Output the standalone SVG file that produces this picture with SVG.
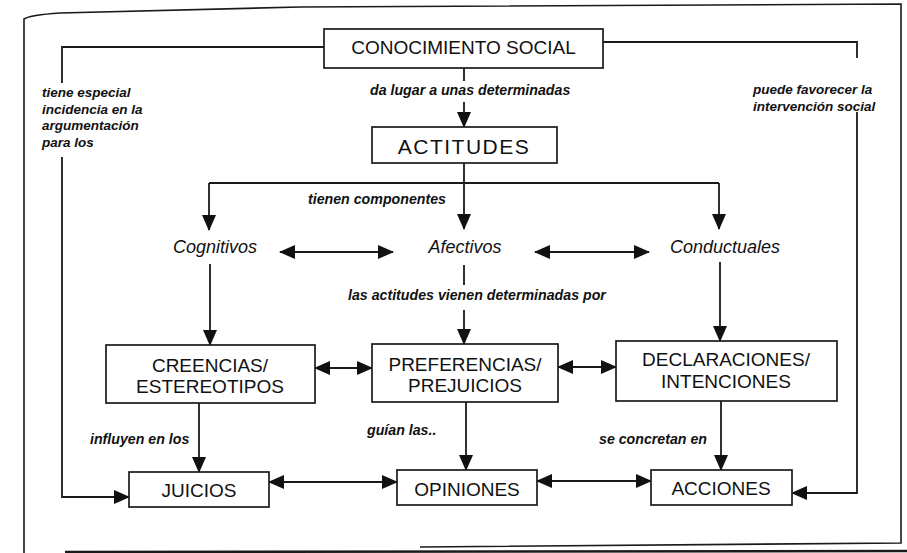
<svg xmlns="http://www.w3.org/2000/svg" width="907" height="553" viewBox="0 0 907 553">
  <defs>
    <marker id="arrow" viewBox="0 0 16 14" refX="15" refY="7" markerWidth="16" markerHeight="14" markerUnits="userSpaceOnUse" orient="auto-start-reverse">
      <path d="M0,0 L16,7 L0,14 Z" fill="#111"/>
    </marker>
    <style>
      .frame { fill: none; stroke: #1a1a1a; stroke-width: 1.6; }
      .box { fill: #fff; stroke: #1a1a1a; stroke-width: 1.7; }
      .link { fill: none; stroke: #1a1a1a; stroke-width: 1.8; }
      .to { marker-end: url(#arrow); }
      .both { marker-start: url(#arrow); marker-end: url(#arrow); }
      .title { font-family: "Liberation Sans", Arial, sans-serif; font-size: 19px; fill: #111; text-anchor: middle; }
      .comp { font-family: "Liberation Sans", Arial, sans-serif; font-size: 18px; font-style: italic; fill: #111; text-anchor: middle; }
      .lbl { font-family: "Liberation Sans", Arial, sans-serif; font-size: 14.2px; font-style: italic; font-weight: bold; fill: #111; }
      .side { font-size: 13.5px; }
    </style>
  </defs>

  <rect width="907" height="553" fill="#fff"/>

  <!-- page frame -->
  <path class="frame" d="M24,553 L24,19 Q30,15 60,13 L300,7 L901,4 L901,543 L420,547"/>
  <line x1="65" y1="552" x2="907" y2="551" stroke="#1a1a1a" stroke-width="2.5"/>

  <!-- connectors -->
  <g id="connectors">
    <!-- conocimiento social -> actitudes -->
    <line class="link" x1="464" y1="68" x2="464" y2="81"/>
    <line class="link to" x1="464" y1="102" x2="464" y2="127"/>
    <!-- actitudes -> components -->
    <polyline class="link" points="464,163 464,183"/>
    <polyline class="link" points="209,183 719,183"/>
    <line class="link to" x1="209" y1="183" x2="209" y2="230"/>
    <line class="link to" x1="464" y1="183" x2="464" y2="229"/>
    <line class="link to" x1="719" y1="183" x2="719" y2="229"/>
    <!-- between components -->
    <line class="link both" x1="280" y1="252" x2="393" y2="252"/>
    <line class="link both" x1="535" y1="252" x2="649" y2="252"/>
    <!-- components -> middle row -->
    <line class="link to" x1="210" y1="264" x2="210" y2="345"/>
    <line class="link" x1="464" y1="265" x2="464" y2="285"/>
    <line class="link to" x1="464" y1="310" x2="464" y2="344"/>
    <line class="link to" x1="720" y1="262" x2="720" y2="341"/>
    <!-- middle row links -->
    <line class="link both" x1="315" y1="368" x2="372" y2="368"/>
    <line class="link both" x1="558" y1="367" x2="616" y2="367"/>
    <!-- middle row -> bottom row -->
    <line class="link to" x1="199" y1="403" x2="199" y2="472"/>
    <line class="link to" x1="466" y1="402" x2="466" y2="470"/>
    <line class="link to" x1="721" y1="401" x2="721" y2="470"/>
    <!-- bottom row links -->
    <line class="link both" x1="269" y1="482" x2="397" y2="482"/>
    <line class="link both" x1="537" y1="481" x2="651" y2="481"/>
    <!-- outer loops -->
    <polyline class="link" points="324,47 62,47 62,83"/>
    <polyline class="link to" points="62,157 62,497 129,497"/>
    <polyline class="link" points="603,42 857,42 857,58"/>
    <polyline class="link to" points="857,112 857,493 792,493"/>
  </g>

  <!-- nodes -->
  <g id="conocimiento-social">
    <rect class="box" x="324" y="29" width="279" height="39"/>
    <text class="title" x="463.5" y="54">CONOCIMIENTO SOCIAL</text>
  </g>
  <g id="actitudes">
    <rect class="box" x="372" y="127" width="185" height="36"/>
    <text class="title" x="464" y="154" style="font-size:21px;letter-spacing:1.5px">ACTITUDES</text>
  </g>
  <g id="cognitivos">
    <text class="comp" x="215" y="253">Cognitivos</text>
  </g>
  <g id="afectivos">
    <text class="comp" x="465" y="253">Afectivos</text>
  </g>
  <g id="conductuales">
    <text class="comp" x="725" y="253">Conductuales</text>
  </g>
  <g id="creencias">
    <rect class="box" x="106" y="345" width="209" height="58"/>
    <text class="title" x="210" y="372">CREENCIAS/</text>
    <text class="title" x="210" y="393">ESTEREOTIPOS</text>
  </g>
  <g id="preferencias">
    <rect class="box" x="372" y="344" width="186" height="58"/>
    <text class="title" x="465" y="371">PREFERENCIAS/</text>
    <text class="title" x="465" y="392">PREJUICIOS</text>
  </g>
  <g id="declaraciones">
    <rect class="box" x="616" y="341" width="221" height="60"/>
    <text class="title" x="726" y="366">DECLARACIONES/</text>
    <text class="title" x="726" y="388">INTENCIONES</text>
  </g>
  <g id="juicios">
    <rect class="box" x="129" y="472" width="140" height="35"/>
    <text class="title" x="199" y="497">JUICIOS</text>
  </g>
  <g id="opiniones">
    <rect class="box" x="397" y="470" width="140" height="35"/>
    <text class="title" x="467" y="496">OPINIONES</text>
  </g>
  <g id="acciones">
    <rect class="box" x="651" y="470" width="141" height="35"/>
    <text class="title" x="721" y="495">ACCIONES</text>
  </g>

  <!-- connector labels -->
  <g id="labels">
    <text class="lbl" x="370" y="95">da lugar a unas determinadas</text>
    <text class="lbl" x="308" y="204">tienen componentes</text>
    <text class="lbl" x="348" y="300">las actitudes vienen determinadas por</text>
    <text class="lbl" x="90" y="444">influyen en los</text>
    <text class="lbl" x="367" y="435">guían las..</text>
    <text class="lbl" x="599" y="444">se concretan en</text>
    <text class="lbl side" x="42" y="97">tiene especial</text>
    <text class="lbl side" x="42" y="113.5">incidencia en la</text>
    <text class="lbl side" x="42" y="130">argumentación</text>
    <text class="lbl side" x="42" y="146.5">para los</text>
    <text class="lbl side" x="753" y="94">puede favorecer la</text>
    <text class="lbl side" x="753" y="111">intervención social</text>
  </g>
</svg>
